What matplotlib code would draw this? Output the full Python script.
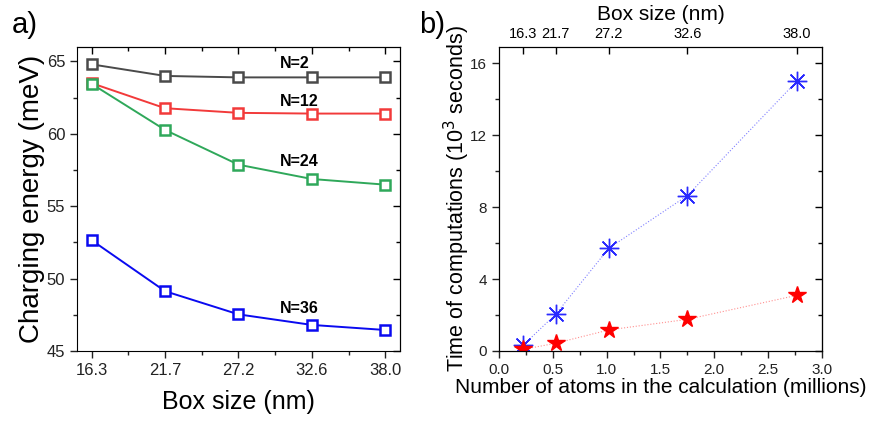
"""Charging energy vs box size (a) and computation time vs atom count (b)."""

import matplotlib

matplotlib.use("Agg")
import matplotlib.pyplot as plt  # noqa: E402
from matplotlib.ticker import MultipleLocator  # noqa: E402

plt.rcParams["font.family"] = ["Liberation Sans", "DejaVu Sans"]

# --- data -----------------------------------------------------------------
box_sizes = ["16.3", "21.7", "27.2", "32.6", "38.0"]
n_labels = ["N=2", "N=12", "N=24", "N=36"]
e_n2 = [64.8, 64.0, 63.9, 63.9, 63.9]
e_n12 = [63.5, 61.77, 61.45, 61.4, 61.4]
e_n24 = [63.45, 60.27, 57.87, 56.88, 56.49]
e_n36 = [52.65, 49.13, 47.53, 46.8, 46.45]
label_y = [64.85, 62.2, 58.1, 47.93]

atoms_millions = [0.226, 0.526, 1.02, 1.75, 2.77]
time_blue = [0.33, 2.04, 5.71, 8.64, 15.02]
time_red = [0.09, 0.43, 1.17, 1.76, 3.1]

COLORS = ["#4a4a4a", "#f23a3a", "#2fa85a", "#0a0af0"]

fig = plt.figure(figsize=(8.71, 4.21), dpi=100)
fig.patch.set_facecolor("white")

# --- panel a --------------------------------------------------------------
ax = fig.add_axes([0.0884, 0.1663, 0.3708, 0.7221])
idx = range(len(box_sizes))
for vals, col in zip([e_n2, e_n12, e_n24, e_n36], COLORS):
    ax.plot(idx, vals, color=col, lw=1.4, marker="s", ms=6.5,
            mfc="white", mec=col, mew=1.8)
for lab, y in zip(n_labels, label_y):
    ax.text(2.57, y, lab, ha="left", va="center", fontsize=11.5,
            fontweight="bold", color="black")

ax.set_xlim(-0.2, 4.2)
ax.set_ylim(45, 66)
ax.set_xticks(list(idx))
ax.set_xticklabels(box_sizes)
ax.xaxis.set_minor_locator(MultipleLocator(0.5))
ax.yaxis.set_major_locator(MultipleLocator(5))
ax.yaxis.set_minor_locator(MultipleLocator(2.5))
ax.tick_params(which="both", direction="out", labelsize=12, width=1, colors="#222222")
ax.tick_params(which="major", length=5)
ax.tick_params(which="minor", length=3)
ax.set_xlabel("Box size (nm)", fontsize=18, labelpad=9)
ax.set_ylabel("Charging energy (meV)", fontsize=20, labelpad=1)

for side in ("top", "right"):
    if side == "top":
        sec = ax.secondary_xaxis("top")
        sec.set_xticks(list(idx))
        sec.xaxis.set_minor_locator(MultipleLocator(0.5))
    else:
        sec = ax.secondary_yaxis("right")
        sec.yaxis.set_major_locator(MultipleLocator(5))
        sec.yaxis.set_minor_locator(MultipleLocator(2.5))
    sec.tick_params(which="both", direction="in", labelleft=False,
                    labelright=False, labeltop=False, labelbottom=False, width=1)
    sec.tick_params(which="major", length=5)
    sec.tick_params(which="minor", length=3)

fig.text(0.014, 0.94, "a)", fontsize=21, ha="left", va="center")

# --- panel b --------------------------------------------------------------
bx = fig.add_axes([0.5729, 0.1663, 0.3708, 0.7221])
bx.plot(atoms_millions, time_blue, color="#8080ff", lw=0.8, ls=":",
        marker=(8, 2, 0), ms=14, mec="#2a2aff", mew=1.0)
bx.plot(atoms_millions, time_red, color="#ff9090", lw=0.8, ls=":",
        marker="*", ms=13, mfc="#ff0000", mec="#ff0000")

bx.set_xlim(0, 3.0)
bx.set_ylim(0, 16.9)
bx.xaxis.set_major_locator(MultipleLocator(0.5))
bx.xaxis.set_minor_locator(MultipleLocator(0.25))
bx.yaxis.set_major_locator(MultipleLocator(4))
bx.yaxis.set_minor_locator(MultipleLocator(2))
bx.xaxis.set_major_formatter(plt.FormatStrFormatter("%.1f"))
bx.tick_params(which="both", direction="out", labelsize=11, width=1, colors="#222222")
bx.tick_params(which="major", length=5)
bx.tick_params(which="minor", length=3)
bx.set_xlabel("Number of atoms in the calculation (millions)", fontsize=15, labelpad=1)
bx.set_ylabel("Time of computations (10$^3$ seconds)", fontsize=15.5, labelpad=-1)

top = bx.twiny()
top.set_xlim(bx.get_xlim())
top.set_xticks(atoms_millions)
top.set_xticklabels(box_sizes)
top.tick_params(direction="in", length=5, width=1, labelsize=10.5, pad=4)
top.set_xlabel("Box size (nm)", fontsize=15, labelpad=5)

right = bx.secondary_yaxis("right")
right.yaxis.set_major_locator(MultipleLocator(4))
right.yaxis.set_minor_locator(MultipleLocator(2))
right.tick_params(which="both", direction="in", labelright=False, width=1)
right.tick_params(which="major", length=5)
right.tick_params(which="minor", length=3)

fig.text(0.481, 0.94, "b)", fontsize=21, ha="left", va="center")

fig.savefig("out.png", dpi=100, facecolor="white")
